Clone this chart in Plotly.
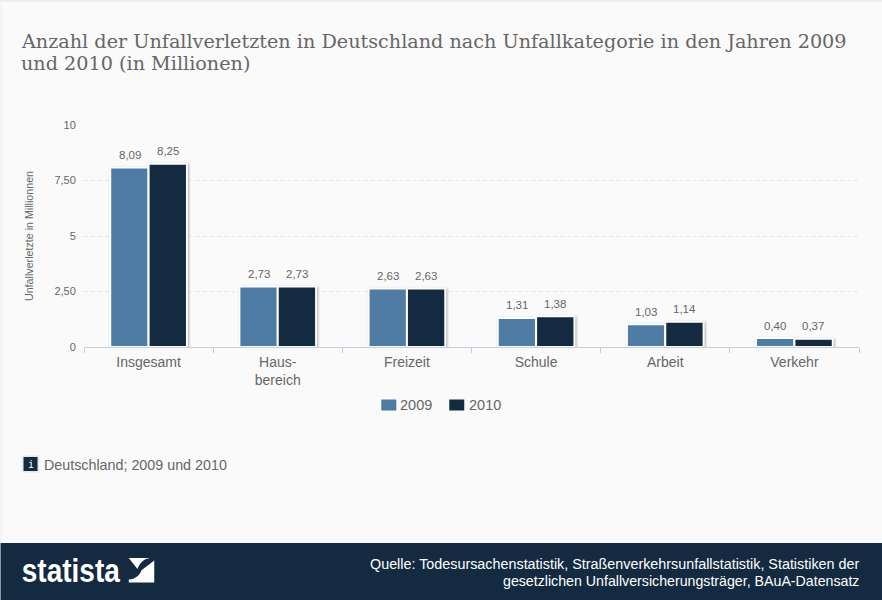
import plotly.graph_objects as go

categories = ["Insgesamt", "Haus-<br>bereich", "Freizeit", "Schule", "Arbeit", "Verkehr"]
values_2009 = [8.09, 2.73, 2.63, 1.31, 1.03, 0.40]
values_2010 = [8.25, 2.73, 2.63, 1.38, 1.14, 0.37]
y_ticks = [0, 2.5, 5, 7.5, 10]
y_labels = ["0", "2,50", "5", "7,50", "10"]

BLUE = "#4e7ca5"
NAVY = "#132a40"
GREY = "#666666"
W, H = 882, 600
ML, MR, MT, MB = 83.5, 23, 125, 253
SANS = "Liberation Sans, Arial, sans-serif"
SERIF = "DejaVu Serif, Georgia, serif"


def px(x):
    return (x - ML) / (W - ML - MR)


def py(y):
    return 1 - (y - MT) / (H - MT - MB)


def rect(x0, y0, x1, y1, color):
    return dict(type="rect", xref="paper", yref="paper", x0=px(x0), x1=px(x1), y0=py(y0), y1=py(y1),
                fillcolor=color, line=dict(width=0), layer="below")


def label(x, y, text, size, color=GREY, anchor="left", font=SANS):
    return dict(xref="paper", yref="paper", x=px(x), y=py(y), text=text, showarrow=False, xanchor=anchor,
                yanchor="middle", align=anchor, borderpad=0, xshift=0,
                font=dict(family=font, size=size, color=color))


fig = go.Figure()
annotations = []
for name, vals, col, offset in (("2009", values_2009, BLUE, -19), ("2010", values_2010, NAVY, 19)):
    fig.add_bar(name=name, x=categories, y=vals, marker=dict(color=col, line=dict(color="white", width=2)),
                cliponaxis=False)
    for c, v in zip(categories, vals):
        annotations.append(dict(xref="x", yref="y", x=c, y=v, text=f"{v:.2f}".replace(".", ","), showarrow=False,
                                xanchor="center", yanchor="middle", xshift=offset, yshift=12.5,
                                font=dict(family=SANS, size=11.5, color=GREY)))

LOGO = [("M", 0.0, 0.0), ("L", 0.85, 0.0),
        ("C", 0.55, 0.03, 0.42, 0.25, 0.34, 0.45, 0.27, 0.6, 0.15, 0.72, 0.0, 0.75), ("Z",),
        ("M", 1.0, 0.1), ("L", 1.0, 1.0), ("L", 0.0, 1.0), ("L", 0.0, 0.88),
        ("C", 0.25, 0.86, 0.42, 0.72, 0.5, 0.5, 0.58, 0.3, 0.75, 0.12, 1.0, 0.1), ("Z",)]


def logo_path(x0, y0, w, h):
    parts = []
    for seg in LOGO:
        coords = seg[1:]
        pts = [f"{px(x0 + coords[i] * w):.5f},{py(y0 + coords[i + 1] * h):.5f}"
               for i in range(0, len(coords), 2)]
        parts.append(seg[0] + " " + " ".join(pts))
    return " ".join(parts)


shapes = [
    rect(0, 0, W, 2, "#eeeeee"),
    rect(0, 0, 1, H, "#eeeeee"),
    rect(0, 543, W, H, NAVY),
    rect(21.5, 455.5, 38.5, 472.5, "#e4e8ec"),
    rect(23, 457, 37, 471, NAVY),
    rect(381, 399.5, 396, 410.5, BLUE),
    rect(449, 399.5, 464, 410.5, NAVY),
    dict(type="path", xref="paper", yref="paper", path=logo_path(128.3, 558, 25.5, 24.5), fillcolor="white",
         line=dict(width=0), layer="above"),
]

annotations += [
    label(19, 41.5, "Anzahl der Unfallverletzten in Deutschland nach Unfallkategorie in den Jahren 2009",
          19.2, font=SERIF),
    label(19, 63.5, "und 2010 (in Millionen)", 19.2, font=SERIF),
    label(30, 464, "i", 10, color="white", anchor="center", font="DejaVu Sans Mono, monospace"),
    label(42, 465, "Deutschland; 2009 und 2010", 14.3),
    label(70.5, 570.5, "<b>statista</b>", 33, color="white", anchor="center"),
    label(860, 564, "Quelle: Todesursachenstatistik, Straßenverkehrsunfallstatistik, Statistiken der",
          14.35, color="white", anchor="right"),
    label(860, 581, "gesetzlichen Unfallversicherungsträger, BAuA-Datensatz", 14.2, color="white", anchor="right"),
    label(399, 405, "2009", 14.5),
    label(468, 405, "2010", 14.5),
]

fig.update_layout(
    width=W, height=H, autosize=False,
    margin=dict(l=ML, r=MR, t=MT, b=MB, pad=0),
    paper_bgcolor="#fafafa", plot_bgcolor="#fafafa",
    separators=",.",
    barmode="group", bargap=0.406, bargroupgap=0,
    showlegend=False,
    shapes=shapes, annotations=annotations,
    xaxis=dict(tickson="boundaries", ticks="outside", ticklen=5, tickcolor="#c0d0e0", linecolor="#c0d0e0",
               linewidth=1, showline=True, showgrid=False, ticklabelstandoff=2,
               tickfont=dict(family=SANS, size=14, color=GREY)),
    yaxis=dict(range=[0, 10], tickvals=y_ticks, ticktext=y_labels, showline=False, zeroline=False,
               gridcolor="#e8e8e8", griddash="4px,3px", gridwidth=1, ticks="outside", ticklen=5,
               tickcolor="rgba(0,0,0,0)", tickfont=dict(family=SANS, size=11, color=GREY),
               title=dict(text="Unfallverletzte in Millionnen", standoff=18,
                          font=dict(family=SANS, size=10.7, color=GREY))),
)

POST = """
document.body.style.margin='0';
document.querySelectorAll('.bars .point path').forEach(function(p){p.style.filter='drop-shadow(1px 1px 1px #aaa)';});
document.querySelectorAll('.annotation-text').forEach(function(t){
  if (t.textContent==='statista'){t.setAttribute('textLength','98');t.setAttribute('lengthAdjust','spacingAndGlyphs');}
});
"""
fig.write_html("out.html", config=dict(displayModeBar=False), post_script=POST)
